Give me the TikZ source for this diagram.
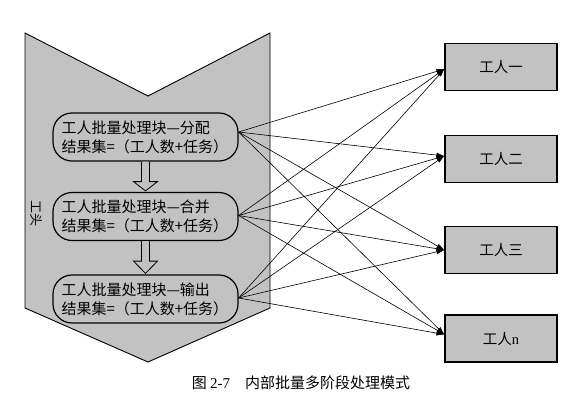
\documentclass[tikz,border=0pt]{standalone}
\usepackage{fontspec}
\setmainfont{Liberation Serif}
\newfontfamily\cjk{Noto Sans CJK SC}
\usetikzlibrary{arrows.meta,calc}
\definecolor{panelgray}{gray}{0.76}
\tikzset{
  stagebox/.style={draw=black, line width=1.2pt, fill=panelgray, rounded corners=19pt,
    minimum width=185pt, minimum height=48pt, inner sep=0pt, align=left,
    font=\cjk\fontsize{15}{19}\selectfont, text width=168pt},
  workerbox/.style={draw=black, line width=1.1pt, fill=panelgray,
    minimum width=112pt, minimum height=47pt, inner sep=0pt,
    font=\cjk\fontsize{14.5}{16}\selectfont},
  link/.style={draw=black, line width=0.6pt, -{Latex[length=8pt,width=5pt]}},
  hollow/.style={draw=black, line width=0.8pt, fill=panelgray, line join=miter},
}
\begin{document}
\begin{tikzpicture}[x=1pt,y=-1pt]
\useasboundingbox (0,0) rectangle (572,400);
% chevron panel
\draw[fill=panelgray, line width=0.9pt] (25,33) -- (148,96) -- (270,33) -- (270,308) -- (148,362) -- (25,308) -- cycle;
\node[rotate=-90, font=\cjk\fontsize{13}{13}\selectfont] (boss) at (36,213) {工头};
% stage boxes
\node[stagebox] (b1) at (145.5,137) {工人批量处理块—分配\\结果集=（工人数+任务）};
\node[stagebox] (b2) at (145.5,216.5) {工人批量处理块—合并\\结果集=（工人数+任务）};
\node[stagebox] (b3) at (145.5,299) {工人批量处理块—输出\\结果集=（工人数+任务）};
% hollow arrows
\foreach \a/\b in {b1/b2, b2/b3}{
  \draw[hollow] ($(\a.south)+(-4,0)$) -- ($(\a.south)+(-4,20)$) -- ($(\a.south)+(-12,20)$)
    -- ($(\b.north)+(0,-1)$) -- ($(\a.south)+(12,20)$) -- ($(\a.south)+(4,20)$) -- ($(\a.south)+(4,0)$);
}
% worker boxes
\node[workerbox] (w1) at (501,67) {工人一};
\node[workerbox] (w2) at (501,159) {工人二};
\node[workerbox] (w3) at (501,250) {工人三};
\node[workerbox] (w4) at (501,338.5) {工人{\rmfamily n}};
\coordinate (t1) at ($(w1.west)+(0,2)$);
\coordinate (t2) at ($(w2.west)+(0,-3)$);
\coordinate (t3) at ($(w3.west)+(0,0)$);
\coordinate (t4) at ($(w4.west)+(0,-4)$);
\coordinate (s1) at ($(b1.east)+(0,-5)$);
\coordinate (s2) at ($(b2.east)+(0,-1)$);
\coordinate (s3) at ($(b3.east)+(0,-1)$);
\foreach \s in {s1,s2,s3}{
  \foreach \t in {t1,t2,t3,t4}{
    \draw[link] (\s) -- (\t);
  }
}
% caption
\node[font=\cjk\fontsize{15}{17}\selectfont] (cap) at (301,383) {图 {\rmfamily 2-7}\quad 内部批量多阶段处理模式};
\end{tikzpicture}
\end{document}
